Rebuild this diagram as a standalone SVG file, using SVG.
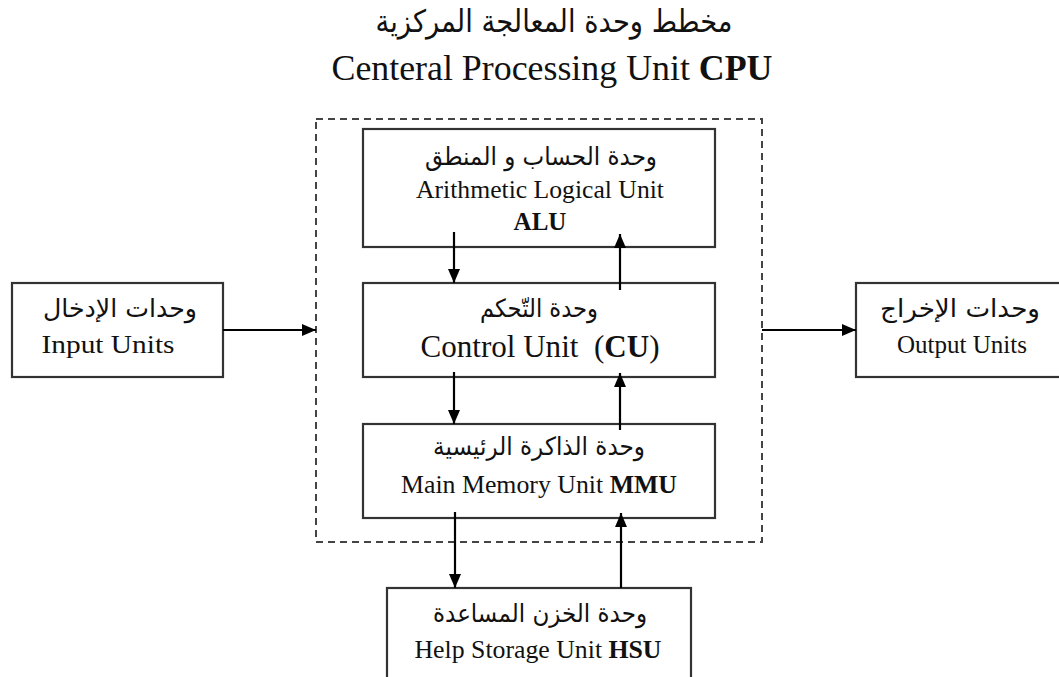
<svg xmlns="http://www.w3.org/2000/svg" width="1059" height="677" viewBox="0 0 1059 677">
<defs>
<marker id="ah" viewBox="0 0 14 12" refX="14" refY="6" markerWidth="14" markerHeight="12" markerUnits="userSpaceOnUse" orient="auto">
<path d="M0,0 L14,6 L0,12 Z" fill="#000"/>
</marker>
<style>
.box{fill:#fff;stroke:#333;stroke-width:2.2}
.dash{fill:none;stroke:#444;stroke-width:2;stroke-dasharray:7 5}
.en{font-family:"Liberation Serif","Times New Roman",serif;fill:#111;text-anchor:middle}
.ar{font-family:"DejaVu Sans","Noto Sans",sans-serif;fill:#111;text-anchor:middle;direction:rtl}
.b{font-weight:bold}
.conn line{stroke:#000;stroke-width:2.2;marker-end:url(#ah)}
</style>
</defs>
<rect width="1059" height="677" fill="#fff"/>
<g id="title">
<text class="ar" x="554" y="32" font-size="31" textLength="357" lengthAdjust="spacingAndGlyphs">مخطط وحدة المعالجة المركزية</text>
<text class="en" x="552" y="80" font-size="36" textLength="441" lengthAdjust="spacingAndGlyphs">Centeral Processing Unit <tspan class="b">CPU</tspan></text>
</g>
<g id="cpu">
<rect class="dash" x="316" y="119" width="446" height="423"/>
</g>
<g id="alu">
<rect class="box" x="363" y="129" width="352" height="118"/>
<text class="ar" x="541" y="165" font-size="25" textLength="232" lengthAdjust="spacingAndGlyphs">وحدة الحساب و المنطق</text>
<text class="en" x="540" y="198" font-size="25.5" textLength="248" lengthAdjust="spacingAndGlyphs">Arithmetic Logical Unit</text>
<text class="en b" x="540" y="230" font-size="25">ALU</text>
</g>
<g id="cu">
<rect class="box" x="363" y="283" width="352" height="94"/>
<text class="ar" x="539" y="317" font-size="25" textLength="118" lengthAdjust="spacingAndGlyphs">وحدة التّحكم</text>
<text class="en" x="540" y="357" font-size="31" textLength="239" lengthAdjust="spacingAndGlyphs" xml:space="preserve">Control Unit  (<tspan class="b">CU</tspan>)</text>
</g>
<g id="mmu">
<rect class="box" x="363" y="424" width="352" height="94"/>
<text class="ar" x="539" y="455" font-size="25" textLength="212" lengthAdjust="spacingAndGlyphs">وحدة الذاكرة الرئيسية</text>
<text class="en" x="539" y="493" font-size="25.5" textLength="276" lengthAdjust="spacingAndGlyphs">Main Memory Unit <tspan class="b">MMU</tspan></text>
</g>
<g id="hsu">
<rect class="box" x="387" y="588" width="304" height="100"/>
<text class="ar" x="540" y="622" font-size="25" textLength="214" lengthAdjust="spacingAndGlyphs">وحدة الخزن المساعدة</text>
<text class="en" x="538" y="658" font-size="25.5" textLength="247" lengthAdjust="spacingAndGlyphs">Help Storage Unit <tspan class="b">HSU</tspan></text>
</g>
<g id="input">
<rect class="box" x="12" y="283" width="211" height="94"/>
<text class="ar" x="120" y="317" font-size="25" textLength="154" lengthAdjust="spacingAndGlyphs">وحدات الإدخال</text>
<text class="en" x="108" y="353" font-size="26" textLength="133" lengthAdjust="spacingAndGlyphs">Input Units</text>
</g>
<g id="output">
<rect class="box" x="856" y="283" width="212" height="94"/>
<text class="ar" x="960" y="317" font-size="25" textLength="160" lengthAdjust="spacingAndGlyphs">وحدات الإخراج</text>
<text class="en" x="962" y="353" font-size="26" textLength="130" lengthAdjust="spacingAndGlyphs">Output Units</text>
</g>
<g id="connectors" class="conn">
<line x1="223" y1="330" x2="316" y2="330"/>
<line x1="762" y1="330" x2="856" y2="330"/>
<line x1="454" y1="232" x2="454" y2="283"/>
<line x1="620" y1="290" x2="620" y2="234"/>
<line x1="454" y1="372" x2="454" y2="424"/>
<line x1="620" y1="430" x2="620" y2="373"/>
<line x1="455" y1="512" x2="455" y2="588"/>
<line x1="621" y1="588" x2="621" y2="513"/>
</g>
</svg>
